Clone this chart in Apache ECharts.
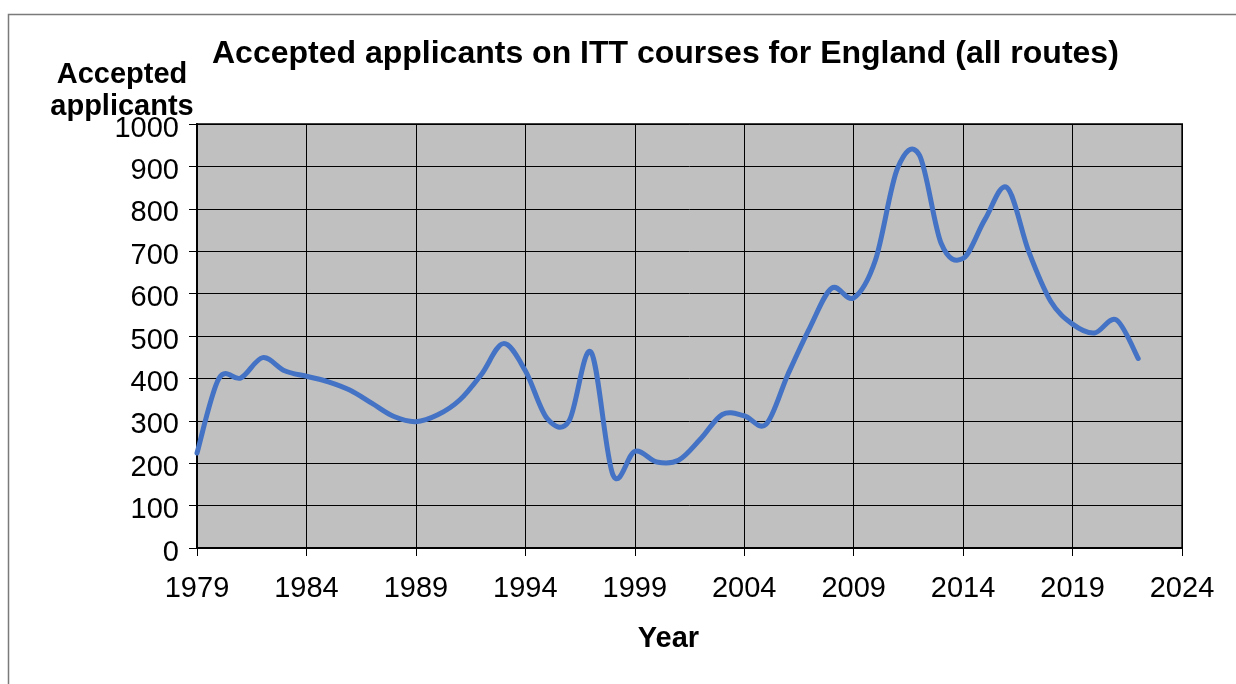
<!DOCTYPE html>
<html>
<head>
<meta charset="utf-8">
<script src="https://cdn.jsdelivr.net/npm/echarts@6/dist/echarts.min.js"></script>
<style>
html,body{margin:0;padding:0;background:#fff;}
#chart{width:1236px;height:684px;}
</style>
</head>
<body>
<div id="chart"></div>
<script>
const years = [1979,1980,1981,1982,1983,1984,1985,1986,1987,1988,1989,1990,1991,1992,1993,1994,1995,1996,1997,1998,1999,2000,2001,2002,2003,2004,2005,2006,2007,2008,2009,2010,2011,2012,2013,2014,2015,2016,2017,2018,2019,2020,2021,2022];
const accepted = [224,400,401,449,418,405,392,372,341,310,298,314,349,410,482,418,305,300,462,173,228,203,207,257,315,312,292,410,520,613,590,680,895,927,718,683,775,850,699,582,528,507,538,447];
const yearTicks = [1979,1984,1989,1994,1999,2004,2009,2014,2019,2024];
const valueTicks = [0,100,200,300,400,500,600,700,800,900,1000];

const titleText = 'Accepted applicants on ITT courses for England (all routes)';
const yName = 'Accepted\napplicants';
const xName = 'Year';

const FONT = 'Liberation Sans, Arial, sans-serif';
const LINE_COLOR = '#4472C4';
const chart = echarts.init(document.getElementById('chart'), null, {renderer: 'canvas'});

// Smoothed line (Catmull-Rom style bezier, like a spreadsheet "smoothed line"),
// every point mapped through the chart's own axes with api.coord.
function renderSmooth(params, api) {
  if (params.dataIndex !== 0) return null;
  const n = years.length;
  const pts = [];
  for (let i = 0; i < n; i++) pts.push(api.coord([years[i], accepted[i]]));
  let d = 'M' + pts[0][0] + ' ' + pts[0][1];
  for (let i = 0; i < n - 1; i++) {
    const p0 = pts[Math.max(i - 1, 0)];
    const p1 = pts[i];
    const p2 = pts[i + 1];
    const p3 = pts[Math.min(i + 2, n - 1)];
    const c1x = p1[0] + (p2[0] - p0[0]) / 6;
    const c1y = p1[1] + (p2[1] - p0[1]) / 6;
    const c2x = p2[0] - (p3[0] - p1[0]) / 6;
    const c2y = p2[1] - (p3[1] - p1[1]) / 6;
    d += ' C' + c1x + ' ' + c1y + ' ' + c2x + ' ' + c2y + ' ' + p2[0] + ' ' + p2[1];
  }
  return {
    type: 'path',
    shape: {pathData: d},
    style: {fill: null, stroke: LINE_COLOR, lineWidth: 5, lineCap: 'round', lineJoin: 'round'}
  };
}

const option = {
  backgroundColor: '#ffffff',
  animation: false,
  title: {
    text: titleText,
    left: 212,
    top: 38,
    padding: 0,
    textStyle: {fontFamily: FONT, fontSize: 32, fontWeight: 'bold', color: '#000'}
  },
  graphic: [{
    type: 'rect',
    silent: true,
    shape: {x: 8.5, y: 14.5, width: 1300, height: 720},
    style: {fill: 'none', stroke: '#7a7a7a', lineWidth: 1.5}
  }],
  grid: {
    left: 197, top: 124, width: 985, height: 424,
    show: true, backgroundColor: '#C0C0C0', borderColor: '#404040', borderWidth: 2
  },
  xAxis: {
    type: 'value',
    min: yearTicks[0], max: yearTicks[yearTicks.length - 1], interval: 5,
    name: xName,
    nameLocation: 'middle',
    nameGap: 76,
    nameMoveOverlap: false,
    nameTextStyle: {fontFamily: FONT, fontSize: 29, fontWeight: 'bold', color: '#000', padding: [0, 42, 0, 0]},
    axisLine: {show: true, onZero: false, lineStyle: {color: '#000', width: 2}},
    axisTick: {show: true, inside: false, length: 8, lineStyle: {color: '#000', width: 1}},
    splitLine: {show: true, lineStyle: {color: '#000', width: 1}},
    axisLabel: {fontFamily: FONT, fontSize: 29, color: '#000', margin: 26,
      formatter: v => String(v), showMinLabel: true, showMaxLabel: true}
  },
  yAxis: {
    type: 'value',
    min: valueTicks[0], max: valueTicks[valueTicks.length - 1], interval: 100,
    name: yName,
    nameLocation: 'end',
    nameGap: 33,
    nameMoveOverlap: false,
    nameTextStyle: {fontFamily: FONT, fontSize: 29, fontWeight: 'bold', color: '#000', align: 'center',
      verticalAlign: 'middle', lineHeight: 32, padding: [0, 150, 0, 0]},
    axisLine: {show: true, onZero: false, lineStyle: {color: '#000', width: 2}},
    axisTick: {show: true, inside: false, length: 8, lineStyle: {color: '#000', width: 1}},
    splitLine: {show: true, lineStyle: {color: '#000', width: 1}},
    axisLabel: {fontFamily: FONT, fontSize: 29, color: '#000', margin: 18,
      verticalAlign: 'top', lineHeight: 9, formatter: v => String(v)}
  },
  series: [{
    type: 'custom',
    renderItem: renderSmooth,
    data: years.map((y, i) => [y, accepted[i]]),
    encode: {x: 0, y: 1},
    clip: false,
    z: 3
  }]
};
chart.setOption(option);
</script>
</body>
</html>
